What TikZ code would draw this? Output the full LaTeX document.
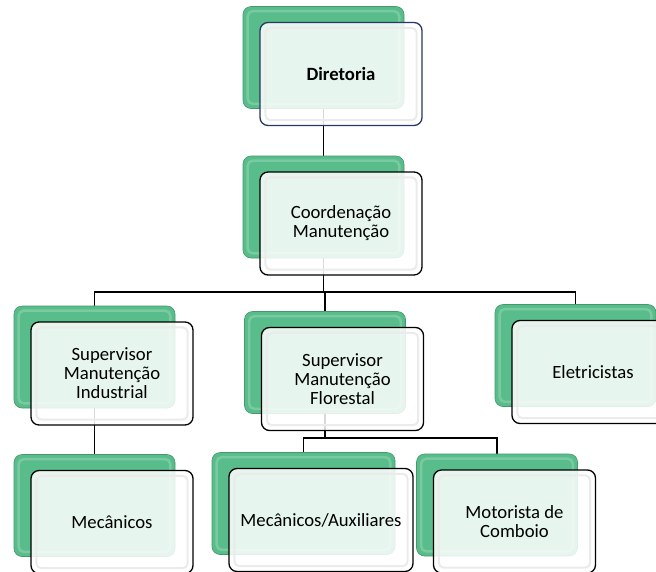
\documentclass[tikz,border=0pt]{standalone}
\usepackage{fontspec}
\setmainfont{Carlito}
\usetikzlibrary{backgrounds}

\definecolor{boxgreen}{RGB}{88,189,138}
\definecolor{dirblue}{RGB}{40,55,100}

\begin{document}
\begin{tikzpicture}[x=1pt,y=-1pt,
    back/.style={rectangle,rounded corners=8pt,minimum width=161pt,minimum height=102pt,
      inner sep=0pt,fill=boxgreen,draw=boxgreen!80!black,line width=0.6pt},
    front/.style={rectangle,rounded corners=8pt,minimum width=162pt,minimum height=103pt,
      inner sep=0pt,fill=white,fill opacity=0.85,text opacity=1,draw=black,line width=1.3pt,
      align=center,font=\fontsize{18.7}{19}\selectfont},
    greenbevel/.style={draw=white,draw opacity=0.2,line width=2.5pt,rounded corners=5pt},
    whitebevel/.style={draw=black!8,line width=2pt,rounded corners=5pt},
    link/.style={draw=black,line width=1.2pt}]
  \useasboundingbox (0,0) rectangle (656,571);

  % Green back boxes
  \node[back] (dir-bg)   at (323.5,57.5)  {};
  \node[back] (coord-bg) at (323.5,207)   {};
  \node[back] (ind-bg)   at (94.5,357)    {};
  \node[back] (flo-bg)   at (325,362.5)   {};
  \node[back] (ele-bg)   at (575.5,355.5) {};
  \node[back] (mec-bg)   at (94.5,505.5)  {};
  \node[back,minimum width=183pt] (aux-bg) at (303.5,503.5) {};
  \node[back] (mot-bg)   at (497,505)     {};

  \foreach \n in {dir,coord,ind,flo,ele,mec,aux,mot}
    \draw[greenbevel] ([shift={(5,5)}]\n-bg.north west) rectangle ([shift={(-5,-5)}]\n-bg.south east);

  % White front boxes
  \node[front,draw=dirblue] (dir) at ([shift={(17.5,16.5)}]dir-bg) {\textbf{Diretoria}};
  \node[front] (coord) at ([shift={(17.5,16.5)}]coord-bg) {Coordenação\\Manutenção};
  \node[front] (ind)   at ([shift={(17.5,16.5)}]ind-bg)   {Supervisor\\Manutenção\\Industrial};
  \node[front] (flo)   at ([shift={(17.5,16.5)}]flo-bg)   {Supervisor\\Manutenção\\Florestal};
  \node[front] (ele)   at ([shift={(17.5,16.5)}]ele-bg)   {Eletricistas};
  \node[front] (mec)   at ([shift={(17.5,16.5)}]mec-bg)   {Mecânicos};
  \node[front,minimum width=184pt] (aux) at ([shift={(17.5,16.5)}]aux-bg) {Mecânicos/Auxiliares};
  \node[front] (mot)   at ([shift={(17.5,16.5)}]mot-bg)   {Motorista de\\Comboio};

  \foreach \n in {dir,coord,ind,flo,ele,mec,aux,mot}
    \draw[whitebevel] ([shift={(6,6)}]\n.north west) rectangle ([shift={(-6,-6)}]\n.south east);

  % Connectors
  \coordinate (bus1) at (0,292);
  \coordinate (bus2) at (0,438);
  \begin{scope}[on background layer]
    \draw[link] (dir-bg) -- (coord-bg);
    \draw[link] (coord-bg) -- (coord-bg |- bus1) -| (ind-bg);
    \draw[link] (coord-bg |- bus1) -| (ele-bg);
    \draw[link] (flo-bg |- bus1) -- (flo-bg);
    \draw[link] (ind-bg) -- (mec-bg);
    \draw[link] (flo-bg) -- (flo-bg |- bus2) -| (aux-bg);
    \draw[link] (flo-bg |- bus2) -| (mot-bg);
  \end{scope}
\end{tikzpicture}
\end{document}
